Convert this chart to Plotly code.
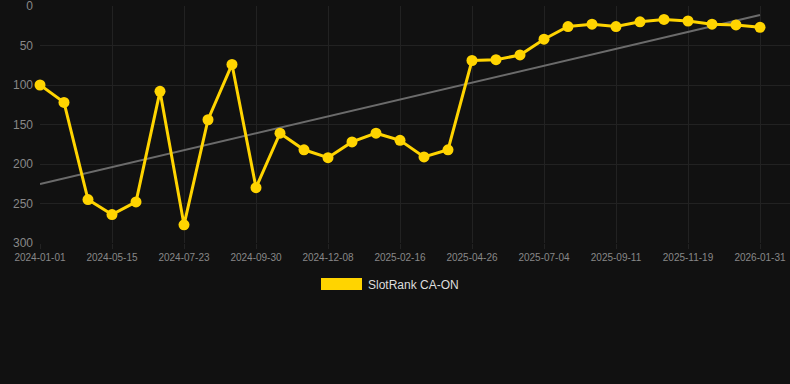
import numpy as np
import plotly.graph_objects as go

dates = [
    "2024-01-01", "2024-02-15", "2024-03-31", "2024-05-15", "2024-06-07", "2024-06-30",
    "2024-07-23", "2024-08-15", "2024-09-07", "2024-09-30", "2024-10-23", "2024-11-15",
    "2024-12-08", "2024-12-31", "2025-01-24", "2025-02-16", "2025-03-11", "2025-04-03",
    "2025-04-26", "2025-05-19", "2025-06-11", "2025-07-04", "2025-07-27", "2025-08-19",
    "2025-09-11", "2025-10-04", "2025-10-27", "2025-11-19", "2025-12-13", "2026-01-07",
    "2026-01-31",
]
ranks = [
    100, 122, 245, 264, 248, 108, 277, 144, 74, 230,
    161, 182, 192, 172, 161, 170, 191, 182, 69, 68,
    62, 42, 26, 23, 26, 20, 17, 19, 23, 24, 27,
]
tick_dates = dates[::3]
y_ticks = [0, 50, 100, 150, 200, 250, 300]
series_name = "SlotRank CA-ON"

idx = np.arange(len(ranks))
slope, intercept = np.polyfit(idx, ranks, 1)
trend = slope * idx + intercept

fig = go.Figure()
fig.add_trace(go.Scatter(
    x=dates, y=trend, mode="lines",
    line=dict(color="#6b6b6b", width=2),
    hoverinfo="skip", showlegend=False,
))
fig.add_trace(go.Scatter(
    x=dates, y=ranks, mode="lines+markers", name=series_name,
    line=dict(color="#FFD400", width=3),
    marker=dict(color="#FFD400", size=11),
    cliponaxis=False, showlegend=False,
))

# legend-like key
fig.add_shape(type="rect", xref="paper", yref="paper",
              x0=(321 - 40) / 750, x1=(362 - 40) / 750,
              y0=(243 - 290) / 237, y1=(243 - 278) / 237,
              fillcolor="#FFD400", line=dict(width=0))
fig.add_annotation(xref="paper", yref="paper",
                   x=(366 - 40) / 750, y=(243 - 284.5) / 237,
                   xanchor="left", yanchor="middle", showarrow=False,
                   text=series_name,
                   font=dict(family="Liberation Sans, Arial, sans-serif", size=12, color="#dddddd"))

fig.update_layout(
    width=790, height=384,
    paper_bgcolor="#111111", plot_bgcolor="#111111",
    margin=dict(l=40, r=0, t=6, b=141),
    font=dict(family="Liberation Sans, Arial, sans-serif", color="#888888"),
    showlegend=False,
    xaxis=dict(
        type="category", range=[0, 31.25],
        tickmode="array", tickvals=tick_dates, ticktext=tick_dates,
        tickfont=dict(size=10, color="#888888"),
        showgrid=True, gridcolor="#222222", gridwidth=1,
        ticks="outside", ticklen=5, tickcolor="#222222",
        showline=False, zeroline=False,
    ),
    yaxis=dict(
        range=[300, 0], tickmode="array", tickvals=y_ticks,
        tickfont=dict(size=12, color="#888888"),
        showgrid=True, gridcolor="#222222", gridwidth=1,
        ticks="", showline=False, zeroline=False,
        ticklabelstandoff=6, ticklabeloverflow="allow",
    ),
)

fig.write_html(
    "out.html",
    config={"displayModeBar": False},
    post_script="document.body.style.margin='0';document.body.style.background='#111111';",
)
